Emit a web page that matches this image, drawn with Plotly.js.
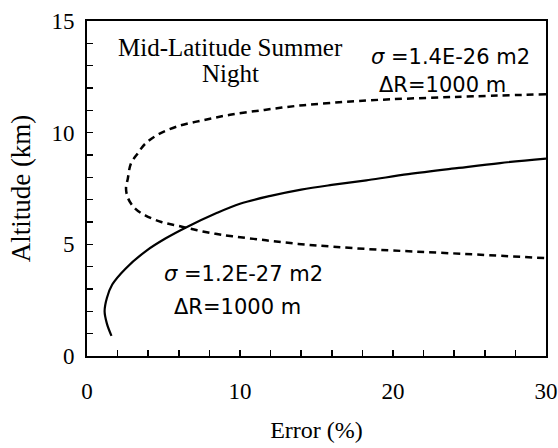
<!DOCTYPE html>
<html>
<head>
<meta charset="utf-8">
<script src="https://cdn.plot.ly/plotly-3.0.1.min.js"></script>
<style>html,body{margin:0;padding:0;background:#fff;}#chart{width:558px;height:448px;}</style>
</head>
<body>
<div id="chart"></div>
<script>
// Solid curve: sigma = 1.2E-27 m2
var errSolid = [1.6, 1.3, 1.15, 1.3, 1.65, 2.5, 3.85, 5.15, 6.6, 8.4, 10.0, 12.0, 14.0, 16.0, 18.4, 21.0, 24.3, 27.0, 30.0];
var altSolid = [0.9, 1.45, 2.0, 2.6, 3.2, 3.9, 4.7, 5.27, 5.8, 6.38, 6.82, 7.17, 7.45, 7.66, 7.88, 8.14, 8.42, 8.64, 8.84];

// Dashed curve: sigma = 1.4E-26 m2
var errDashed = [30.0, 24.0, 18.5, 15.9, 13.7, 11.6, 9.35, 7.6, 5.9, 4.6, 3.8, 3.3, 2.86, 2.67, 2.55, 2.69, 3.15, 3.8, 4.86, 6.0, 7.2, 8.4, 9.5, 11.7, 13.8, 16.0, 19.0, 23.8, 30.0];
var altDashed = [11.72, 11.6, 11.45, 11.33, 11.2, 11.02, 10.8, 10.56, 10.28, 9.9, 9.5, 9.06, 8.6, 7.95, 7.5, 7.05, 6.6, 6.3, 6.0, 5.82, 5.63, 5.47, 5.36, 5.18, 5.02, 4.9, 4.76, 4.6, 4.38];

var xTickVals = [0, 10, 20, 30];
var xTickText = ['0', '10', '20', '30'];
var yTickVals = [0, 5, 10, 15];
var yTickText = ['0', '5', '10', '15'];

var serif = 'Liberation Serif, Times New Roman, serif';
var sans = 'DejaVu Sans, sans-serif';

var traces = [
  {x: errSolid, y: altSolid, mode: 'lines', line: {color: '#000', width: 2.2, shape: 'spline', smoothing: 1}, showlegend: false, hoverinfo: 'skip'},
  {x: errDashed, y: altDashed, mode: 'lines', line: {color: '#000', width: 2.5, dash: '7px,5px', shape: 'spline', smoothing: 1}, showlegend: false, hoverinfo: 'skip'}
];

var layout = {
  width: 558, height: 448,
  margin: {l: 87, r: 12, t: 21, b: 92},
  paper_bgcolor: '#fff', plot_bgcolor: '#fff',
  showlegend: false,
  xaxis: {
    range: [0, 30], showgrid: false, zeroline: false,
    showline: true, linecolor: '#000', linewidth: 2, mirror: true,
    tickmode: 'array', tickvals: xTickVals, ticktext: xTickText,
    ticks: 'inside', ticklen: 6, tickwidth: 1.5, tickcolor: '#000',
    minor: {dtick: 2, ticks: 'inside', ticklen: 6, tickwidth: 1.5, tickcolor: '#000'},
    tickfont: {family: serif, size: 23, color: '#000'},
    ticklabelstandoff: 13,
    title: {text: 'Error (%)', font: {family: serif, size: 24, color: '#000'}, standoff: 19},
    automargin: false
  },
  yaxis: {
    range: [0, 15], showgrid: false, zeroline: false,
    showline: true, linecolor: '#000', linewidth: 2, mirror: true,
    tickmode: 'array', tickvals: yTickVals, ticktext: yTickText,
    ticks: 'inside', ticklen: 6, tickwidth: 1.5, tickcolor: '#000',
    minor: {dtick: 1, ticks: 'inside', ticklen: 6, tickwidth: 1.5, tickcolor: '#000'},
    tickfont: {family: serif, size: 23, color: '#000'},
    ticklabelstandoff: 6,
    title: {text: 'Altitude (km)', font: {family: serif, size: 27, color: '#000'}, standoff: 13},
    automargin: false
  },
  annotations: [
    {x: 9.35, y: 13.8, xref: 'x', yref: 'y', text: 'Mid-Latitude Summer', showarrow: false, xanchor: 'center', yanchor: 'middle', font: {family: serif, size: 25, color: '#000'}},
    {x: 9.35, y: 12.67, xref: 'x', yref: 'y', text: 'Night', showarrow: false, xanchor: 'center', yanchor: 'middle', font: {family: serif, size: 25, color: '#000'}},
    {x: 18.43, y: 13.39, xref: 'x', yref: 'y', text: '<i>σ</i> =1.4E-26 m2', showarrow: false, xanchor: 'left', yanchor: 'middle', font: {family: sans, size: 21, color: '#000'}},
    {x: 18.95, y: 12.14, xref: 'x', yref: 'y', text: 'ΔR=1000 m', showarrow: false, xanchor: 'left', yanchor: 'middle', font: {family: sans, size: 21, color: '#000'}},
    {x: 4.9, y: 3.67, xref: 'x', yref: 'y', text: '<i>σ</i> =1.2E-27 m2', showarrow: false, xanchor: 'left', yanchor: 'middle', font: {family: sans, size: 21, color: '#000'}},
    {x: 5.56, y: 2.19, xref: 'x', yref: 'y', text: 'ΔR=1000 m', showarrow: false, xanchor: 'left', yanchor: 'middle', font: {family: sans, size: 21, color: '#000'}}
  ]
};

Plotly.newPlot('chart', traces, layout, {displayModeBar: false, staticPlot: true});
</script>
</body>
</html>
